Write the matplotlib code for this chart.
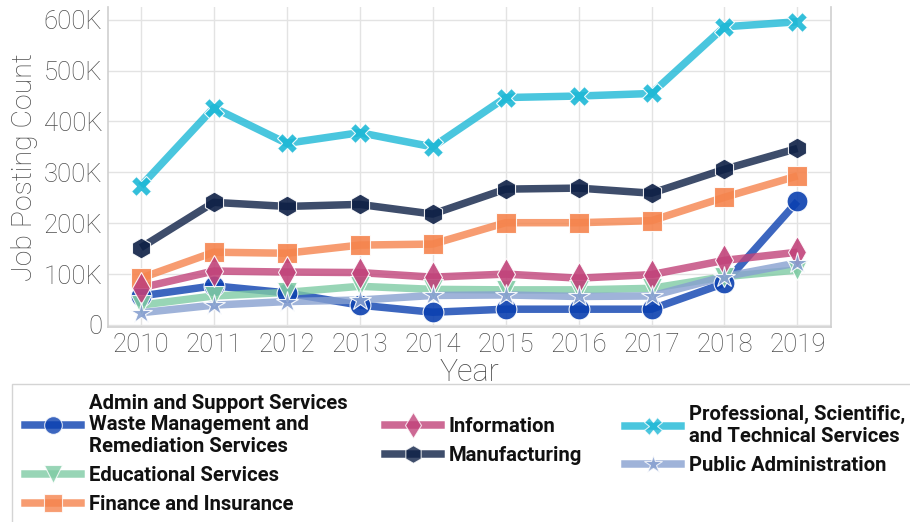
import matplotlib
matplotlib.use("Agg")
import matplotlib.pyplot as plt
from matplotlib.lines import Line2D
from matplotlib.patches import Rectangle
from matplotlib.ticker import FuncFormatter

years = [2010, 2011, 2012, 2013, 2014, 2015, 2016, 2017, 2018, 2019]

admin = [57, 77, 63, 39, 25, 31, 31, 31, 82, 243]
educational = [39, 57, 64, 76, 70, 69, 69, 72, 95, 108]
finance = [92, 143, 141, 157, 159, 201, 201, 205, 251, 293]
information = [73, 106, 104, 103, 94, 100, 92, 99, 127, 143]
manufacturing = [152, 241, 233, 237, 218, 267, 269, 259, 306, 347]
professional = [273, 427, 357, 378, 350, 447, 450, 455, 586, 596]
public_admin = [24, 39, 46, 49, 58, 59, 56, 57, 95, 122]

labels = [
    "Admin and Support Services\nWaste Management and\nRemediation Services",
    "Educational Services",
    "Finance and Insurance",
    "Information",
    "Manufacturing",
    "Professional, Scientific,\nand Technical Services",
    "Public Administration",
]
series = [admin, educational, finance, information, manufacturing, professional, public_admin]
colors = ["#0b40b0", "#7fcba4", "#f5844d", "#c1437a", "#0e2046", "#1db8d6", "#87a0d0"]
markers = ["o", "v", "s", "d", "h", "X", "*"]
msizes = [15, 15, 15, 16, 15, 15, 16]

W, H = 910, 522
fig = plt.figure(figsize=(W / 100, H / 100), dpi=100)
ax = fig.add_axes([108 / W, 1 - 327 / H, (831 - 108) / W, (327 - 7) / H])

handles = []
for vals, lab, c, m, ms in zip(series, labels, colors, markers, msizes):
    y = [v * 1000 for v in vals]
    ax.plot(years, y, color=c, lw=5.4, alpha=0.8, solid_capstyle="butt", zorder=2)
    ax.plot(years, y, ls="none", marker=m, ms=ms, markerfacecolor=c,
            markeredgecolor=(1, 1, 1, 0.5), markeredgewidth=0.8, alpha=0.9, zorder=3)
    handles.append(Line2D([], [], color=c, lw=5.4, alpha=0.8, marker=m, ms=ms * 0.85,
                          markerfacecolor=c, markeredgecolor=(1, 1, 1, 0.5),
                          markeredgewidth=0.8))

ax.set_xlim(2009.55, 2019.46)
ax.set_ylim(-4000, 625000)
ax.set_xticks(years)
ax.set_yticks([0, 100000, 200000, 300000, 400000, 500000, 600000])
ax.yaxis.set_major_formatter(FuncFormatter(lambda v, p: "0" if v == 0 else f"{int(v/1000)}K"))

for t in ax.get_xticklabels() + ax.get_yticklabels():
    t.set_fontfamily("Roboto")
    t.set_fontweight("light")
    t.set_fontsize(18.5)
    t.set_color("#4d4d4d")
ax.tick_params(length=0, pad=4)

ax.grid(True, color="#e3e3e3", lw=1)
ax.set_axisbelow(True)
for s in ["left", "bottom", "right"]:
    ax.spines[s].set_color("#cfcfcf")
    ax.spines[s].set_linewidth(1.2)
ax.spines["top"].set_visible(False)

lab_font = dict(family="Roboto", weight="light", color="#4d4d4d")
ax.set_ylabel("Job Posting Count", fontdict=lab_font, fontsize=20.5, labelpad=4)
ax.set_xlabel("Year", fontdict=lab_font, fontsize=22, labelpad=1)

# legend frame
fig.patches.append(Rectangle((12 / W, -0.05), 1.0, 1 - 384 / H + 0.05, transform=fig.transFigure,
                             facecolor="white", edgecolor="#d4d4d4", lw=1, zorder=1))

leg_kw = dict(frameon=False, handlelength=2.75, handletextpad=0.4, borderpad=0,
              borderaxespad=0, prop=dict(family="Roboto", weight="bold", size=14.6),
              labelcolor="#111111", loc="center left")

def add_col(idx, x, ycenter, spacing):
    lg = fig.legend([handles[i] for i in idx], [labels[i] for i in idx],
                    bbox_to_anchor=(x / W, 1 - ycenter / H), labelspacing=spacing, **leg_kw)
    for t in lg.get_texts():
        t.set_linespacing(1.17)
    lg.set_zorder(5)
    return lg

add_col([0, 1, 2], 25, 454, 0.5)
add_col([3, 4], 385, 441, 0.5)
add_col([5, 6], 625, 440, 0.5)

fig.savefig("out.png", dpi=100)
